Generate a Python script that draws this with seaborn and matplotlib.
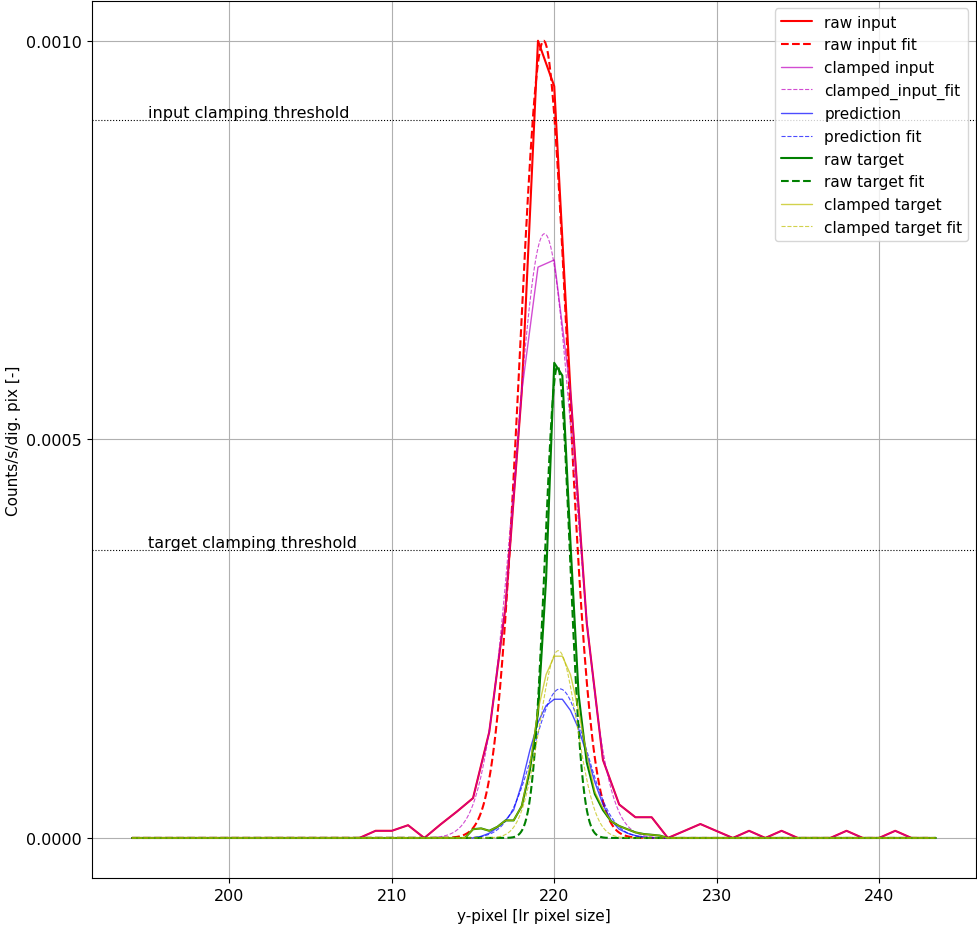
import numpy as np
import pandas as pd
import seaborn as sns
import matplotlib.pyplot as plt
from matplotlib.lines import Line2D
from matplotlib.ticker import MultipleLocator, FormatStrFormatter

# low-res pixel grid (input profiles)
x_lr = list(range(194, 244))
raw_input = [0, 0, 0, 0, 0, 0, 0, 0, 0, 0, 0, 0, 0, 0, 0,          # 194-208
             9e-6, 9e-6, 1.6e-5, 0, 1.7e-5, 3.3e-5, 5.0e-5, 1.33e-4,  # 209-216
             2.9e-4, 5.6e-4, 1.0e-3, 9.43e-4, 5.6e-4, 2.7e-4, 9.8e-5,  # 217-223
             4.2e-5, 2.6e-5, 2.6e-5, 0, 8.7e-6, 1.75e-5, 8.7e-6, 0,    # 224-231
             9e-6, 0, 9e-6, 0, 0, 0, 9e-6, 0, 0, 9e-6, 0, 0]          # 232-243
clamped_input = list(raw_input)
clamped_input[219 - 194] = 7.16e-4
clamped_input[220 - 194] = 7.25e-4

# high-res grid (target / prediction), only the non-zero stretch is listed
x_hr = list(np.arange(194, 244, 0.5))
x_peak = [214.5, 215, 215.5, 216, 216.5, 217, 217.5, 218, 218.5, 219, 219.5, 220, 220.5,
          221, 221.5, 222, 222.5, 223, 223.5, 224, 224.5, 225, 225.5, 226, 226.5, 227]
raw_target_peak = [0, 1.1e-5, 1.2e-5, 9e-6, 1.4e-5, 2.2e-5, 2.2e-5, 4.0e-5, 8.5e-5, 1.57e-4,
                   3.25e-4, 5.96e-4, 5.8e-4, 3.7e-4, 1.8e-4, 9.5e-5, 5.5e-5, 3.5e-5, 2.1e-5,
                   1.5e-5, 1.1e-5, 7e-6, 5e-6, 4e-6, 3e-6, 0]
clamped_target_peak = [0, 1.1e-5, 1.2e-5, 9e-6, 1.4e-5, 2.2e-5, 2.2e-5, 4.0e-5, 9.0e-5, 1.6e-4,
                       2.05e-4, 2.28e-4, 2.28e-4, 2.05e-4, 1.6e-4, 1.05e-4, 5.8e-5, 3.7e-5, 2.1e-5,
                       1.5e-5, 1.1e-5, 7e-6, 5e-6, 4e-6, 3e-6, 0]
prediction_peak = [0, 0, 2e-6, 6e-6, 1.3e-5, 2.2e-5, 3.5e-5, 6.8e-5, 1.1e-4, 1.45e-4,
                   1.66e-4, 1.74e-4, 1.74e-4, 1.6e-4, 1.37e-4, 1.05e-4, 7e-5, 4.2e-5, 2.2e-5,
                   1.1e-5, 6e-6, 3e-6, 1e-6, 0, 0, 0]

# gaussian fit parameters: (amplitude, centre, sigma)
fit_raw_input = (1.0e-3, 219.35, 1.47)
fit_clamped_input = (7.58e-4, 219.4, 1.83)
fit_prediction = (1.87e-4, 220.35, 1.6)
fit_raw_target = (5.92e-4, 220.2, 0.76)
fit_clamped_target = (2.35e-4, 220.25, 1.15)

input_threshold = 9.0e-4
target_threshold = 3.61e-4

RED, MAG, BLUE, GREEN, YEL = '#ff0000', '#bf00bf', '#0000ff', '#008000', '#bfbf00'


def on_hr(vals):
    s = pd.Series(vals, index=x_peak).reindex(x_hr, fill_value=0.0)
    return s.values


def gauss(p, x):
    a, mu, sig = p
    return a * np.exp(-(x - mu) ** 2 / (2 * sig ** 2))


x_fit = np.linspace(194, 243.5, 600)

sns.set_style("ticks")
plt.rcParams['font.family'] = ['DejaVu Sans']
plt.rcParams['font.size'] = 11
for k in ['text.color', 'axes.labelcolor', 'xtick.color', 'ytick.color', 'axes.edgecolor']:
    plt.rcParams[k] = 'black'

fig, ax = plt.subplots(figsize=(9.77, 9.29), dpi=100)
fig.subplots_adjust(left=0.094, right=0.999, top=0.998, bottom=0.054)

# (label, x, y, color, linewidth, linestyle, alpha)
series = [
    ('raw input', x_lr, raw_input, RED, 1.5, '-', 1.0),
    ('raw input fit', x_fit, gauss(fit_raw_input, x_fit), RED, 1.5, '--', 1.0),
    ('clamped input', x_lr, clamped_input, MAG, 1.0, '-', 0.7),
    ('clamped_input_fit', x_fit, gauss(fit_clamped_input, x_fit), MAG, 0.8, '--', 0.7),
    ('prediction', x_hr, on_hr(prediction_peak), BLUE, 1.0, '-', 0.7),
    ('prediction fit', x_fit, gauss(fit_prediction, x_fit), BLUE, 0.8, '--', 0.7),
    ('raw target', x_hr, on_hr(raw_target_peak), GREEN, 1.5, '-', 1.0),
    ('raw target fit', x_fit, gauss(fit_raw_target, x_fit), GREEN, 1.5, '--', 1.0),
    ('clamped target', x_hr, on_hr(clamped_target_peak), YEL, 1.0, '-', 0.7),
    ('clamped target fit', x_fit, gauss(fit_clamped_target, x_fit), YEL, 0.8, '--', 0.7),
]

handles = []
for lab, xs, ys, c, lw, ls, a in series:
    sns.lineplot(x=xs, y=ys, ax=ax, color=c, linewidth=lw, linestyle=ls, alpha=a)
    handles.append(Line2D([], [], color=c, linewidth=lw, linestyle=ls, alpha=a, label=lab))

ax.axhline(input_threshold, color='k', linestyle=':', lw=0.8)
ax.text(195, input_threshold, 'input clamping threshold', va='bottom', fontsize=11.5)
ax.axhline(target_threshold, color='k', linestyle=':', lw=0.8)
ax.text(195, target_threshold, 'target clamping threshold', va='bottom', fontsize=11.5)

ax.yaxis.set_major_locator(MultipleLocator(0.0005))
ax.yaxis.set_major_formatter(FormatStrFormatter('%.4f'))
ax.xaxis.set_major_locator(MultipleLocator(10))
ax.tick_params(labelsize=11.5)
ax.grid(True, color='#b0b0b0', lw=0.8)
ax.set_xlabel('y-pixel [lr pixel size]')
ax.set_ylabel('Counts/s/dig. pix [-]')

ax.legend(handles=handles, loc='upper right', fontsize=11)

plt.savefig('out.png', dpi=100)
